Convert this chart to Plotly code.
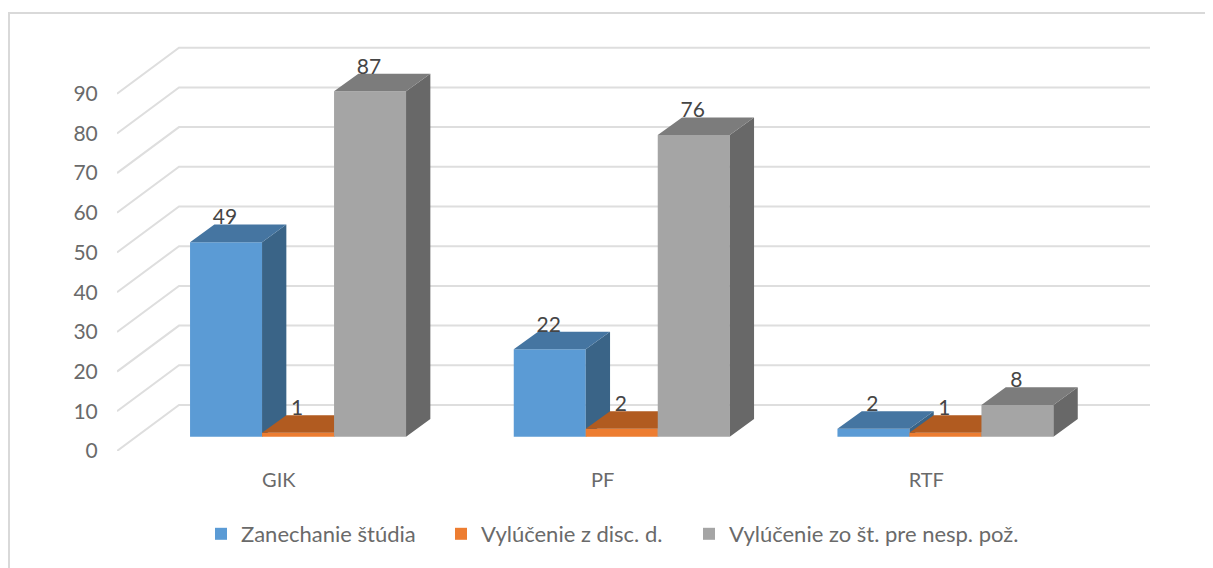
import plotly.graph_objects as go

categories = ["GIK", "PF", "RTF"]
series_names = ["Zanechanie štúdia", "Vylúčenie z disc. d.", "Vylúčenie zo št. pre nesp. pož."]
zanechanie = [49, 22, 2]
vylucenie_disc = [1, 2, 1]
vylucenie_nesp = [87, 76, 8]
y_ticks = [0, 10, 20, 30, 40, 50, 60, 70, 80, 90]

series_values = [zanechanie, vylucenie_disc, vylucenie_nesp]
front_colors = ["#5B9BD5", "#ED7D31", "#A5A5A5"]
top_colors = ["#4575A1", "#B15B20", "#7C7C7C"]
side_colors = ["#3A6487", "#8F4A1C", "#686868"]
TEXT_AXIS = "#6A6A6A"
TEXT_LABEL = "#454545"
GRID = "#DEDEDE"
FONT = "Lato"

# page geometry (px); the browser's body margin puts the canvas at (8, 8)
PAGE = 8
W, H = 1213 - PAGE, 568 - PAGE
LEFT, RIGHT, TOP, BOTTOM = 117, 1150, 30, 451
PX_PER_CAT = 323.7
PX_PER_UNIT = 3.97

x0 = -0.5
x_range = [x0, x0 + (RIGHT - LEFT) / PX_PER_CAT]
y_range = [0, (BOTTOM - TOP) / PX_PER_UNIT]


def ux(px):
    return px / PX_PER_CAT


def uy(px):
    return px / PX_PER_UNIT


# oblique projection, px converted to axis units
WALL_DX, WALL_DY = ux(62), uy(46)
FRONT_DX, FRONT_DY = ux(19.2), uy(14.3)
DEPTH_DX, DEPTH_DY = ux(24.3), uy(17.6)
BAR_W = ux(72)
LABEL_DY = uy(23)

fig = go.Figure()

# gridlines running along the floor-side wall and the back wall
gx, gy = [], []
for t in y_ticks:
    gx += [x0, x0 + WALL_DX, x_range[1], None]
    gy += [t, t + WALL_DY, t + WALL_DY, None]
fig.add_trace(go.Scatter(x=gx, y=gy, mode="lines", line=dict(color=GRID, width=2),
                         showlegend=False, hoverinfo="skip", zorder=0))

for s, (name, vals) in enumerate(zip(series_names, series_values)):
    xs = [i + FRONT_DX + (s - 1) * BAR_W for i in range(len(categories))]
    legend_id = "legend" if s == 0 else f"legend{s + 1}"
    fig.add_trace(go.Bar(x=xs, y=vals, base=[FRONT_DY] * len(vals), width=BAR_W, name=name,
                         marker=dict(color=front_colors[s], line=dict(width=0)),
                         legend=legend_id, hoverinfo="skip", zorder=s + 1))
    sx, sy, tx, ty = [], [], [], []
    for xc, v in zip(xs, vals):
        l, r = xc - BAR_W / 2, xc + BAR_W / 2
        b, h = FRONT_DY, FRONT_DY + v
        sx += [r, r + DEPTH_DX, r + DEPTH_DX, r, r, None]
        sy += [b, b + DEPTH_DY, h + DEPTH_DY, h, b, None]
        tx += [l, r, r + DEPTH_DX, l + DEPTH_DX, l, None]
        ty += [h, h, h + DEPTH_DY, h + DEPTH_DY, h, None]
    for px_, py_, col in ((sx, sy, side_colors[s]), (tx, ty, top_colors[s])):
        fig.add_trace(go.Scatter(x=px_, y=py_, mode="lines", fill="toself", fillcolor=col,
                                 line=dict(width=0, color=col), showlegend=False,
                                 hoverinfo="skip", zorder=s + 1))
    fig.add_trace(go.Scatter(x=[x - ux(1) for x in xs], y=[FRONT_DY + v + LABEL_DY for v in vals],
                             text=[str(v) for v in vals], mode="text",
                             textposition="middle center",
                             textfont=dict(family=FONT, size=21, color=TEXT_LABEL),
                             showlegend=False, hoverinfo="skip", zorder=10))


def legend_at(px):
    return dict(x=(px - LEFT) / (RIGHT - LEFT), xanchor="left",
                y=(BOTTOM - 534) / (BOTTOM - TOP), yanchor="middle",
                orientation="h", bgcolor="rgba(0,0,0,0)", borderwidth=0,
                font=dict(family=FONT, size=22, color=TEXT_AXIS))


fig.update_layout(
    width=W, height=H, autosize=False,
    margin=dict(l=LEFT - PAGE, r=W + PAGE - RIGHT, t=TOP - PAGE, b=H + PAGE - BOTTOM,
                pad=0, autoexpand=False),
    paper_bgcolor="white", plot_bgcolor="white", barmode="overlay",
    font=dict(family=FONT, size=20, color=TEXT_AXIS),
    xaxis=dict(range=x_range, tickmode="array", tickvals=[0, 1, 2], ticktext=categories,
               showgrid=False, zeroline=False, showline=False, ticks="outside", ticklen=11,
               tickcolor="rgba(0,0,0,0)", tickfont=dict(family=FONT, size=20, color=TEXT_AXIS)),
    yaxis=dict(range=y_range, tickmode="array", tickvals=y_ticks,
               showgrid=False, zeroline=False, showline=False, ticks="outside", ticklen=14,
               tickcolor="rgba(0,0,0,0)", tickfont=dict(family=FONT, size=21, color=TEXT_AXIS)),
    legend=legend_at(201),
    legend2=legend_at(441),
    legend3=legend_at(689),
    shapes=[dict(type="rect", xref="paper", yref="paper", layer="below",
                 x0=(9 - LEFT) / (RIGHT - LEFT), x1=(1300 - LEFT) / (RIGHT - LEFT),
                 y0=(BOTTOM - 650) / (BOTTOM - TOP), y1=(BOTTOM - 13) / (BOTTOM - TOP),
                 line=dict(color="#D9D9D9", width=2), fillcolor="rgba(0,0,0,0)")],
)

fig.write_html("out.html")
